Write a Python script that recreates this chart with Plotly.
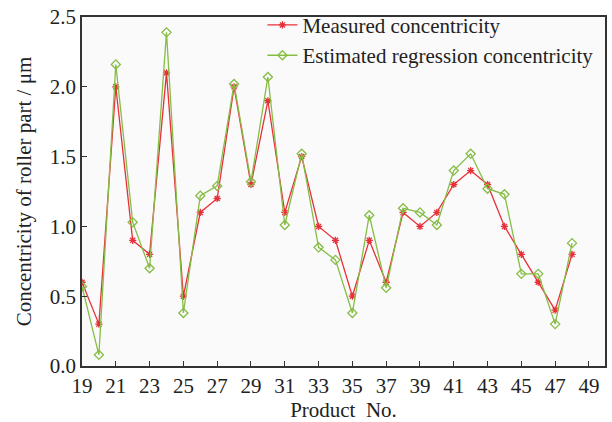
import plotly.graph_objects as go

product_no = list(range(19, 49))
measured = [0.6, 0.3, 2.0, 0.9, 0.8, 2.1, 0.5, 1.1, 1.2, 2.0,
            1.3, 1.9, 1.1, 1.5, 1.0, 0.9, 0.5, 0.9, 0.6, 1.1,
            1.0, 1.1, 1.3, 1.4, 1.3, 1.0, 0.8, 0.6, 0.4, 0.8]
estimated = [0.57, 0.08, 2.16, 1.03, 0.70, 2.39, 0.38, 1.22, 1.29, 2.02,
             1.32, 2.07, 1.01, 1.52, 0.85, 0.76, 0.38, 1.08, 0.56, 1.13,
             1.10, 1.01, 1.40, 1.52, 1.27, 1.23, 0.66, 0.66, 0.30, 0.88]
x_ticks = list(range(19, 50, 2))
y_ticks = [0.0, 0.5, 1.0, 1.5, 2.0, 2.5]

font_family = "Liberation Serif"
red = "#e8303a"
green = "#86bd45"
axis_col = "#333333"
fs = 21

fig = go.Figure()
fig.add_trace(go.Scatter(
    x=product_no, y=measured, mode="lines+markers",
    name="Measured concentricity",
    line=dict(color=red, width=1.3),
    marker=dict(symbol="asterisk-open", size=6, color=red, line=dict(color=red, width=1.3)),
))
fig.add_trace(go.Scatter(
    x=product_no, y=estimated, mode="lines+markers",
    name="Estimated regression concentricity",
    line=dict(color=green, width=1.3),
    marker=dict(symbol="diamond-open", size=7, color=green, line=dict(color=green, width=1.3)),
))

fig.update_layout(
    width=612, height=422,
    margin=dict(l=82, r=5, t=11, b=56),
    paper_bgcolor="white",
    plot_bgcolor="#fafafa",
    font=dict(family=font_family, size=fs, color="#222222"),
    showlegend=True,
    legend=dict(
        x=0.345, y=1.035, xanchor="left", yanchor="top",
        bgcolor="rgba(0,0,0,0)", borderwidth=0,
        font=dict(family=font_family, size=fs, color="#222222"),
        tracegroupgap=0, itemwidth=30,
    ),
    xaxis=dict(
        range=[19, 49.95], tickmode="array", tickvals=x_ticks,
        ticks="inside", ticklen=5, tickcolor=axis_col, tickwidth=1,
        showline=True, linecolor=axis_col, linewidth=1.5, mirror=True,
        showgrid=False, zeroline=False,
        title=dict(text="Product  No.", standoff=0, font=dict(size=fs)),
        tickfont=dict(size=fs),
    ),
    yaxis=dict(
        range=[0, 2.5], tickmode="array", tickvals=y_ticks,
        tickformat=".1f",
        ticks="inside", ticklen=5, tickcolor=axis_col, tickwidth=1,
        showline=True, linecolor=axis_col, linewidth=1.5, mirror=True,
        showgrid=False, zeroline=False,
        title=dict(text="Concentricity of roller part / μm", standoff=12, font=dict(size=fs)),
        tickfont=dict(size=fs),
    ),
)

fig.write_html("out.html")
